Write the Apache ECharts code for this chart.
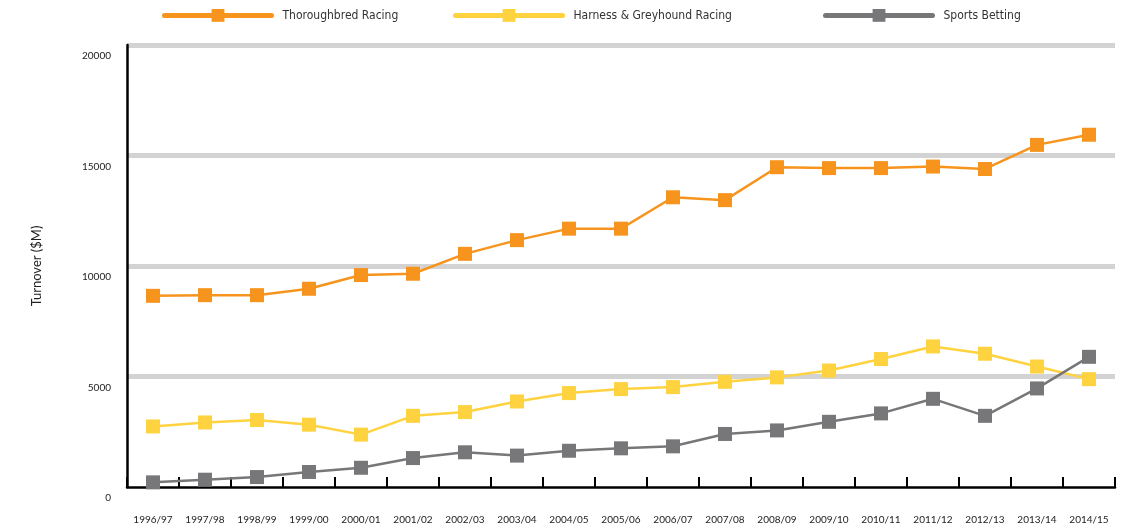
<!DOCTYPE html>
<html>
<head>
<meta charset="utf-8">
<script src="https://cdn.jsdelivr.net/npm/echarts@6/dist/echarts.min.js"></script>
<style>
  html, body { margin: 0; padding: 0; background: #fff; }
  #chart { width: 1122px; height: 528px; }
</style>
</head>
<body>
<div id="chart"></div>
<script>
// financial years
const years = ['1996/97', '1997/98', '1998/99', '1999/00', '2000/01', '2001/02', '2002/03',
  '2003/04', '2004/05', '2005/06', '2006/07', '2007/08', '2008/09', '2009/10', '2010/11',
  '2011/12', '2012/13', '2013/14', '2014/15']

// turnover, $M
const thoroughbred = [8650, 8680, 8680, 8970, 9590, 9650, 10550, 11170, 11690, 11690,
  13110, 12980, 14470, 14430, 14430, 14500, 14390, 15480, 15940]
const harnessGreyhound = [2740, 2920, 3030, 2820, 2370, 3220, 3390, 3870, 4250, 4430,
  4520, 4760, 4960, 5270, 5790, 6360, 6030, 5450, 4880]
const sportsBetting = [210, 330, 450, 680, 870, 1310, 1570, 1420, 1640, 1750,
  1840, 2400, 2560, 2950, 3330, 3990, 3220, 4460, 5890]

const colors = ['#F7941D', '#FFD23F', '#77777A']
const names = ['Thoroughbred Racing', 'Harness & Greyhound Racing', 'Sports Betting']
const legendLeft = [162, 453, 823]

const chart = echarts.init(document.getElementById('chart'))

function line(name, data, color) {
  return {
    name: name,
    type: 'line',
    data: data,
    symbol: 'rect',
    symbolSize: 14,
    showAllSymbol: true,
    lineStyle: { color: color, width: 2.5 },
    itemStyle: { color: color },
    emphasis: { disabled: true },
  }
}

// one legend per item so each sits where the original puts it
const legends = names.map((n, i) => ({
  top: 9,
  left: legendLeft[i],
  padding: 0,
  itemWidth: 107,
  itemHeight: 16,
  lineStyle: { width: 5, cap: 'round' },
  textStyle: {
    fontFamily: '"DejaVu Sans Condensed", "Liberation Sans Narrow", sans-serif',
    fontSize: 12,
    color: '#333',
    padding: [0, 0, 0, 6],
  },
  data: [n],
}))

chart.setOption({
  animation: false,
  legend: legends,
  grid: { left: 127, right: 7, top: 45, bottom: 41 },
  xAxis: {
    type: 'category',
    data: years,
    boundaryGap: true,
    axisLine: { lineStyle: { color: '#000', width: 2.5 } },
    axisTick: { show: true, inside: true, length: 10, interval: 0, lineStyle: { color: '#000', width: 2 } },
    axisLabel: { margin: 28, fontSize: 10, color: '#222', fontFamily: 'Lato, sans-serif', interval: 0 },
  },
  yAxis: {
    type: 'value',
    min: 0,
    max: 20000,
    interval: 5000,
    name: 'Turnover ($M)',
    nameLocation: 'middle',
    nameGap: 84,
    nameTextStyle: { fontSize: 13, color: '#222', fontFamily: 'Lato, sans-serif' },
    axisLine: { show: true, lineStyle: { color: '#000', width: 2.5 } },
    axisTick: { show: false },
    axisLabel: {
      margin: 16,
      fontSize: 10,
      color: '#222',
      fontFamily: 'Lato, sans-serif',
      verticalAlign: 'top',
      padding: [6, 0, 0, 0],
      formatter: v => String(v),
    },
    splitLine: { show: true, showMinLine: false, lineStyle: { color: '#D3D3D3', width: 5 } },
  },
  series: [
    line(names[0], thoroughbred, colors[0]),
    line(names[1], harnessGreyhound, colors[1]),
    line(names[2], sportsBetting, colors[2]),
  ],
})
</script>
</body>
</html>
